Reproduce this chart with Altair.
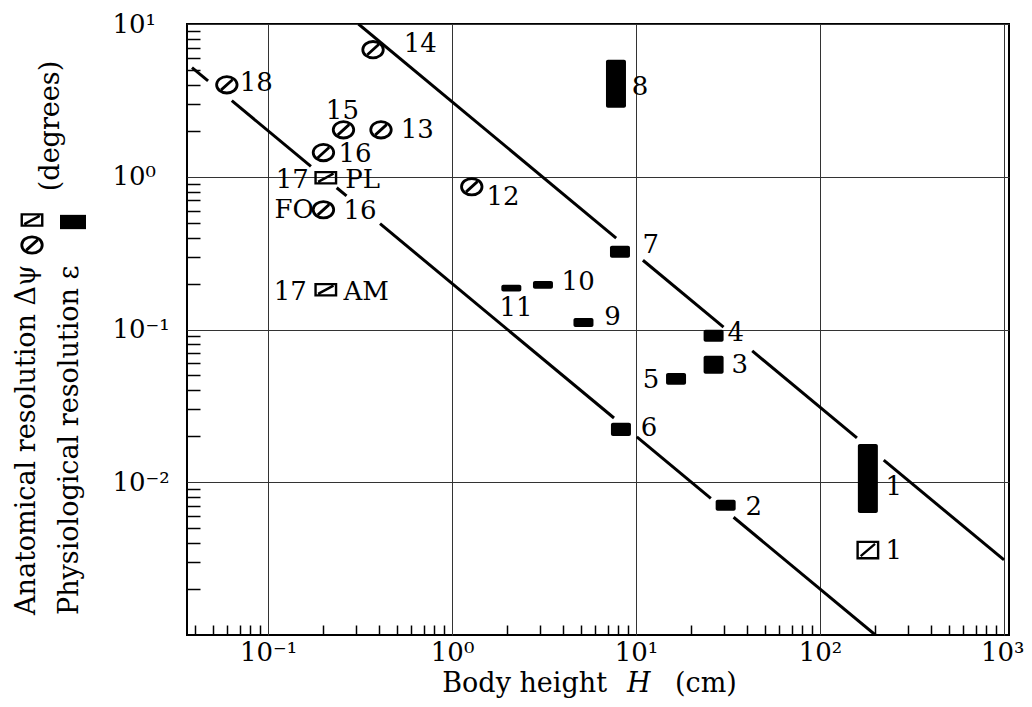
import altair as alt
import pandas as pd

# ---------------- data ----------------
# Anatomical resolution, hatched circles (body height H in cm, delta psi in degrees)
CIRC_ID = ["18", "14", "15", "13", "16", "FO 16", "12"]
CIRC_H = [0.0597, 0.372, 0.257, 0.411, 0.200, 0.200, 1.28]
CIRC_V = [4.0, 6.79, 2.03, 2.03, 1.44, 0.608, 0.86]

# Anatomical resolution, hatched squares
SQ_ID = ["17 PL", "17 AM"]
SQ_H = [0.206, 0.206]
SQ_V = [0.985, 0.182]
SQB_ID = ["1"]
SQB_H = [182.0]
SQB_V = [0.0036]

# Physiological resolution epsilon, filled bars (low / high)
BAR_ID = ["1", "2", "3", "4", "5", "6", "7", "8", "9", "10", "11"]
BAR_H = [182.0, 30.7, 26.4, 26.4, 16.5, 8.28, 8.18, 7.78, 5.18, 3.12, 2.10]
BAR_LO = [0.0063, 0.0065, 0.0513, 0.083, 0.0434, 0.0201, 0.295, 2.83, 0.104, 0.185, 0.177]
BAR_HI = [0.0178, 0.00767, 0.0673, 0.0995, 0.052, 0.0245, 0.353, 5.84, 0.119, 0.208, 0.196]

# Two reference lines (drawn in pieces, broken around labels)
LINE_SEG = ["u1", "u1", "u2", "u2", "u3", "u3", "u4", "u4",
            "l1", "l1", "l2", "l2", "l3", "l3", "l4", "l4", "l5", "l5", "l6", "l6"]
LINE_H = [0.31, 7.8, 10.9, 29.9, 42.8, 158.7, 222.0, 1000.0,
          0.0386, 0.0472, 0.0635, 0.171, 0.236, 0.267, 0.406, 7.59, 10.1, 25.5, 33.9, 200.0]
LINE_V = [10.0, 0.397, 0.284, 0.1037, 0.0724, 0.01953, 0.01396, 0.0031,
          5.18, 4.24, 3.15, 1.17, 0.847, 0.749, 0.493, 0.02635, 0.0198, 0.00784, 0.0059, 0.001]

# Point labels
LAB_L_TEXT = ["14", "18", "13", "16", "PL", "16", "AM", "12", "8", "7", "10", "9",
              "4", "3", "6", "2", "1", "1"]
LAB_L_H = [0.546, 0.0701, 0.526, 0.2415, 0.263, 0.257, 0.257, 1.54, 9.48, 10.86, 3.94, 6.71,
           31.45, 33.0, 10.6, 39.3, 227.0, 227.0]
LAB_L_V = [7.43, 4.13, 2.03, 1.40, 0.956, 0.599, 0.1766, 0.740, 3.88, 0.359, 0.205, 0.121,
           0.0952, 0.0587, 0.0227, 0.0069, 0.00933, 0.00356]
LAB_C_TEXT = ["15", "11"]
LAB_C_H = [0.2536, 2.23]
LAB_C_V = [2.71, 0.1387]
LAB_R_TEXT = ["17", "FO", "17", "5"]
LAB_R_H = [0.1667, 0.1772, 0.1625, 13.4]
LAB_R_V = [0.956, 0.608, 0.1766, 0.0469]

# Axes
X_DOMAIN = [0.0386, 1000]
Y_DOMAIN = [0.001, 10]
X_TICKS = [0.1, 1, 10, 100, 1000]
X_TICK_LABELS = ["10\u207b\u00b9", "10\u2070", "10\u00b9", "10\u00b2", "10\u00b3"]
Y_TICKS = [0.01, 0.1, 1, 10]
Y_TICK_LABELS = ["10\u207b\u00b2", "10\u207b\u00b9", "10\u2070", "10\u00b9"]
X_MINOR = [m * 10.0 ** e for e in range(-2, 3) for m in range(2, 10) if m * 10.0 ** e > 0.0386]
Y_MINOR = [m * 10.0 ** e for e in range(-3, 1) for m in range(2, 10)]

X_TITLE = ["Body height", "H", "(cm)"]
Y_TITLE_1 = "Anatomical resolution \u0394\u03c8"
Y_TITLE_2 = "Physiological resolution \u03b5"
Y_TITLE_3 = "(degrees)"

# ---------------- chart ----------------
FONT = "DejaVu Serif"
FS = 26
FS_T = 27
W, H = 822, 611


def label_expr(vals, labs):
    parts = " : ".join(f"datum.value == {v} ? '{l}'" for v, l in zip(vals, labs))
    return parts + " : ''"


xs = alt.Scale(type="log", domain=X_DOMAIN, nice=False)
ys = alt.Scale(type="log", domain=Y_DOMAIN, nice=False)

x_main = alt.Axis(values=X_TICKS, labelExpr=label_expr(X_TICKS, X_TICK_LABELS), grid=True,
                  gridColor="#333", gridWidth=1, ticks=False, tickSize=0, domain=False,
                  labelFont=FONT, labelFontSize=FS, labelColor="black", labelPadding=4,
                  labelFlush=5, labelFlushOffset=20, labelOverlap=False, title=None)
y_main = alt.Axis(values=Y_TICKS, labelExpr=label_expr(Y_TICKS, Y_TICK_LABELS), grid=True,
                  gridColor="#333", gridWidth=1, ticks=False, tickSize=0, domain=False,
                  labelFont=FONT, labelFontSize=FS, labelColor="black", labelAlign="left",
                  labelBaseline="middle", labelPadding=75, labelFlush=False,
                  labelOverlap=False, title=None)
x_minor = alt.Axis(orient="top", offset=-H, values=X_MINOR, labels=False, grid=False,
                   domain=False, ticks=True, tickSize=10, tickWidth=1.5, tickColor="black",
                   title=None)
y_minor = alt.Axis(orient="right", offset=-W, values=Y_MINOR, labels=False, grid=False,
                   domain=False, ticks=True, tickSize=13, tickWidth=1.5, tickColor="black",
                   title=None)

lines_df = pd.DataFrame({"seg": LINE_SEG, "H": LINE_H, "v": LINE_V})
circ_df = pd.DataFrame({"id": CIRC_ID, "H": CIRC_H, "v": CIRC_V})
sq_df = pd.DataFrame({"id": SQ_ID, "H": SQ_H, "v": SQ_V})
sqb_df = pd.DataFrame({"id": SQB_ID, "H": SQB_H, "v": SQB_V})
bar_df = pd.DataFrame({"id": BAR_ID, "H": BAR_H, "lo": BAR_LO, "hi": BAR_HI})
labl_df = pd.DataFrame({"t": LAB_L_TEXT, "H": LAB_L_H, "v": LAB_L_V})
labc_df = pd.DataFrame({"t": LAB_C_TEXT, "H": LAB_C_H, "v": LAB_C_V})
labr_df = pd.DataFrame({"t": LAB_R_TEXT, "H": LAB_R_H, "v": LAB_R_V})

ELLIPSE = ("M -1 0 C -1 -0.442 -0.552 -0.8 0 -0.8 C 0.552 -0.8 1 -0.442 1 0 "
           "C 1 0.442 0.552 0.8 0 0.8 C -0.552 0.8 -1 0.442 -1 0 Z "
           "M -0.55 0.5 L 0.55 -0.5")
RECT_SMALL = "M -1 -0.55 L 1 -0.55 L 1 0.55 L -1 0.55 Z M -0.75 0.4 L 0.75 -0.4"
RECT_BIG = "M -1 -0.8 L 1 -0.8 L 1 0.8 L -1 0.8 Z M -0.7 0.6 L 0.7 -0.6"
RECT_FILLED = "M -1 -0.55 L 1 -0.55 L 1 0.55 L -1 0.55 Z"

lines = alt.Chart(lines_df).mark_line(color="black", strokeWidth=3, clip=True).encode(
    x=alt.X("H:Q", scale=xs, axis=x_main),
    y=alt.Y("v:Q", scale=ys, axis=y_main),
    detail="seg:N",
)

circles = alt.Chart(circ_df).mark_point(shape=ELLIPSE, size=420, filled=False,
                                        color="black", strokeWidth=2.8, opacity=1).encode(
    x=alt.X("H:Q", scale=xs, axis=x_minor),
    y=alt.Y("v:Q", scale=ys, axis=y_minor),
)

squares = alt.Chart(sq_df).mark_point(shape=RECT_SMALL, size=420, filled=False,
                                      color="black", strokeWidth=2.4, opacity=1).encode(
    x=alt.X("H:Q", scale=xs, axis=None),
    y=alt.Y("v:Q", scale=ys, axis=None),
)

square_big = alt.Chart(sqb_df).mark_point(shape=RECT_BIG, size=420, filled=False,
                                          color="black", strokeWidth=2.4, opacity=1).encode(
    x=alt.X("H:Q", scale=xs, axis=None),
    y=alt.Y("v:Q", scale=ys, axis=None),
)

bars = alt.Chart(bar_df).mark_bar(size=20, color="black", cornerRadius=2).encode(
    x=alt.X("H:Q", scale=xs, axis=None),
    y=alt.Y("lo:Q", scale=ys, axis=None),
    y2="hi:Q",
)


def text_layer(df, align):
    return alt.Chart(df).mark_text(align=align, baseline="middle", font=FONT, fontSize=FS,
                                   color="black").encode(
        x=alt.X("H:Q", scale=xs, axis=None),
        y=alt.Y("v:Q", scale=ys, axis=None),
        text="t:N",
    )


labels_l = text_layer(labl_df, "left")
labels_c = text_layer(labc_df, "center")
labels_r = text_layer(labr_df, "right")


def fixed_text(txt, x, y, align="left", angle=0, style="normal", size=FS_T):
    return alt.Chart(pd.DataFrame({"t": [txt]})).mark_text(
        align=align, baseline="middle", font=FONT, fontSize=size, fontStyle=style,
        color="black", angle=angle).encode(
        x=alt.value(x), y=alt.value(y), text="t:N")


xt1 = fixed_text(X_TITLE[0], 420, 660, align="right")
xt2 = fixed_text(X_TITLE[1], 440, 660, align="left", style="italic")
xt3 = fixed_text(X_TITLE[2], 488, 660, align="left")

yt1 = fixed_text(Y_TITLE_1, -160, 591, align="left", angle=270)
yt2 = fixed_text(Y_TITLE_2, -117, 591, align="left", angle=270)
yt3 = fixed_text(Y_TITLE_3, -136, 102, align="center", angle=270)

legend_df = pd.DataFrame({"k": [0]})
leg_circ = alt.Chart(legend_df).mark_point(shape=ELLIPSE, size=420, filled=False, color="black",
                                           strokeWidth=2.8, opacity=1).encode(
    x=alt.value(-155), y=alt.value(221))
leg_sq = alt.Chart(legend_df).mark_point(shape=RECT_SMALL, size=420, filled=False, color="black",
                                         strokeWidth=2.4, opacity=1).encode(
    x=alt.value(-155), y=alt.value(196))
leg_fill = alt.Chart(legend_df).mark_point(shape=RECT_FILLED, size=676, filled=True,
                                           color="black", opacity=1).encode(
    x=alt.value(-114), y=alt.value(198))

chart = alt.layer(
    lines, circles, squares, square_big, bars, labels_l, labels_c, labels_r,
    xt1, xt2, xt3, yt1, yt2, yt3, leg_circ, leg_sq, leg_fill,
).resolve_axis(x="independent", y="independent").properties(
    width=W, height=H,
    autosize=alt.AutoSizeParams(type="none"),
    padding={"left": 179, "top": 16, "right": 15, "bottom": 64},
).configure_view(stroke="black", strokeWidth=2)

chart.save("out.html", embed_options={"renderer": "svg", "actions": False})
